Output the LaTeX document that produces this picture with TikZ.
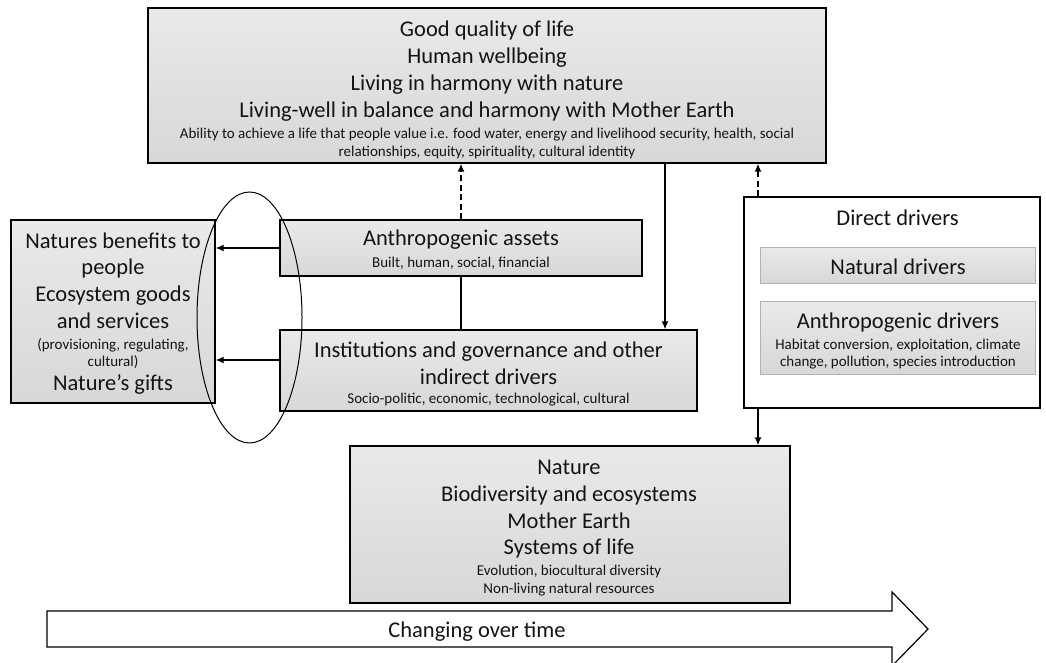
\documentclass[tikz,border=0pt]{standalone}
\usepackage{fontspec}
\setmainfont{Carlito}
\usetikzlibrary{arrows.meta,shapes.geometric,calc}
\begin{document}
\begin{tikzpicture}[x=1pt,y=-1pt,
  gbox/.style={draw=black, line width=1.3pt, top color=gray!17, bottom color=gray!31, inner sep=0pt},
  ibox/.style={draw=gray!60, line width=0.9pt, top color=gray!17, bottom color=gray!31, inner sep=0pt},
  wbox/.style={draw=black, line width=1.2pt, fill=white, inner sep=0pt},
  bigtxt/.style={align=center, inner sep=0pt, text=black!92, font=\fontsize{22.5}{27}\selectfont},
  smalltxt/.style={align=center, inner sep=0pt, text=black!92, font=\fontsize{15}{18}\selectfont},
  arr/.style={line width=1.4pt, -{Latex[length=8pt,width=7pt]}},
  darr/.style={arr, dash pattern=on 6pt off 3.5pt},
]
\useasboundingbox (0,0) rectangle (1046,663);

% boxes
\node[gbox, minimum width=678pt, minimum height=155pt] (top) at (487,85.5) {};
\node[bigtxt] (topA) at (487,71.5) {Good quality of life\\Human wellbeing\\Living in harmony with nature\\Living-well in balance and harmony with Mother Earth};
\node[smalltxt, font=\fontsize{15}{17.5}\selectfont] (topB) at (487,143.5) {Ability to achieve a life that people value i.e. food water, energy and livelihood security, health, social\\relationships, equity, spirituality, cultural identity};

\node[gbox, minimum width=204pt, minimum height=183pt] (nb) at (113,311.5) {};
\node[bigtxt, font=\fontsize{22.5}{26.7}\selectfont] (nbA) at (113,280.5) {Natures benefits to\\people\\Ecosystem goods\\and services};
\node[smalltxt, font=\fontsize{15}{17.5}\selectfont] (nbB) at (113,353.5) {(provisioning, regulating,\\cultural)};
\node[bigtxt] (nbC) at (113,384) {Nature’s gifts};

\node[gbox, minimum width=362pt, minimum height=56pt] (assets) at (461,248) {};
\node[bigtxt] (assetsA) at (461,239.5) {Anthropogenic assets};
\node[smalltxt] (assetsB) at (461,263) {Built, human, social, financial};

\node[gbox, minimum width=417pt, minimum height=81pt] (inst) at (488.5,370.5) {};
\node[bigtxt] (instA) at (488.5,363) {Institutions and governance and other\\indirect drivers};
\node[smalltxt] (instB) at (488.5,399.5) {Socio-politic, economic, technological, cultural};

\node[wbox, minimum width=296pt, minimum height=211pt] (dd) at (892,302.5) {};
\node[bigtxt] (ddA) at (897.5,218) {Direct drivers};
\node[ibox, minimum width=275pt, minimum height=36pt] (nat) at (898,265) {};
\node[bigtxt] (natA) at (898,267) {Natural drivers};
\node[ibox, minimum width=275pt, minimum height=73pt] (ad) at (898,337.5) {};
\node[bigtxt] (adA) at (898,322.5) {Anthropogenic drivers};
\node[smalltxt, font=\fontsize{15}{16.5}\selectfont] (adB) at (898,354) {Habitat conversion, exploitation, climate\\change, pollution, species introduction};

\node[gbox, minimum width=440pt, minimum height=157pt] (nature) at (570,524.5) {};
\node[bigtxt, font=\fontsize{22.5}{26.7}\selectfont] (natureA) at (569,509.5) {Nature\\Biodiversity and ecosystems\\Mother Earth\\Systems of life};
\node[smalltxt] (natureB) at (569,581) {Evolution, biocultural diversity\\Non-living natural resources};

% ellipse
\node[ellipse, draw=black, line width=1pt, minimum width=105pt, minimum height=251pt, inner sep=0pt] (ell) at (249.5,317.5) {};

% big arrow
\draw[line width=1.2pt, fill=white] (47,611) -- (892,611) -- (892,592) -- (928,629) -- (892,666) -- (892,647) -- (47,647) -- cycle;
\node[bigtxt] (time) at (477,632) {Changing over time};

% helper coordinates
\coordinate (xa) at (665,0);
\coordinate (xb) at (758,0);
\coordinate (yi) at (0,360);

% connectors
\draw[darr] (assets.north) -- (assets.north |- top.south);
\draw[arr] (top.south -| xa) -- (inst.north -| xa);
\draw[darr] (dd.north -| xb) -- (top.south -| xb);
\draw[arr] (dd.south -| xb) -- (nature.north -| xb);
\draw[line width=1.4pt] (assets.south) -- (assets.south |- inst.north);
\draw[arr] (assets.west) -- (assets.west -| nb.east);
\draw[arr] (inst.west |- yi) -- (nb.east |- yi);
\end{tikzpicture}
\end{document}
